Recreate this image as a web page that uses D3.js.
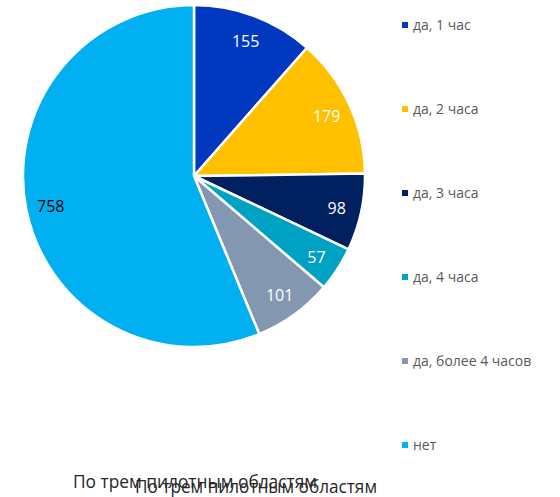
<!DOCTYPE html>
<html>
<head>
<meta charset="utf-8">
<script src="https://cdn.jsdelivr.net/npm/d3@7"></script>
<style>
  body { margin: 0; background: #fff; }
  text { font-family: "Open Sans", sans-serif; }
</style>
</head>
<body>
<div id="chart"></div>
<script>
// data
const categories = ["да, 1 час", "да, 2 часа", "да, 3 часа", "да, 4 часа", "да, более 4 часов", "нет"];
const values = [155, 179, 98, 57, 101, 758];
const colors = ["#0039c0", "#ffc000", "#002060", "#00a2c3", "#8497b0", "#00b0f0"];
const labelColors = ["#fff", "#fff", "#fff", "#fff", "#fff", "#000"];
const title = "По трем пилотным областям";

const width = 560, height = 497;
const cx = 194, cy = 176, radius = 171;

const svg = d3.select("#chart")
  .append("svg")
    .attr("width", width)
    .attr("height", height);

const data = categories.map(function(c, i) { return {name: c, value: values[i], i: i}; });

const pie = d3.pie()
  .sort(null)
  .value(function(d) { return d.value; });

const arc = d3.arc().innerRadius(0).outerRadius(radius);
const labelArc = d3.arc().innerRadius(146).outerRadius(146);

const g = svg.append("g")
  .attr("transform", `translate(${cx},${cy})`);

const slices = g.selectAll("g.slice")
  .data(pie(data))
  .enter()
  .append("g")
    .attr("class", "slice");

slices.append("path")
  .attr("d", arc)
  .attr("fill", function(d) { return colors[d.data.i]; })
  .attr("stroke", "#fff")
  .attr("stroke-width", 2.5)
  .attr("stroke-linejoin", "round");

slices.append("text")
  .attr("transform", function(d) { return `translate(${labelArc.centroid(d)})`; })
  .attr("text-anchor", "middle")
  .attr("dy", "0.45em")
  .style("font-size", "16px")
  .attr("fill", function(d) { return labelColors[d.data.i]; })
  .text(function(d) { return d.data.value; });

// legend
const legend = svg.append("g")
  .attr("transform", "translate(402,25)");

const item = legend.selectAll("g")
  .data(data)
  .enter()
  .append("g")
    .attr("transform", function(d, i) { return `translate(0,${i * 84})`; });

item.append("rect")
  .attr("x", 0)
  .attr("y", -3)
  .attr("width", 6)
  .attr("height", 6)
  .attr("fill", function(d) { return colors[d.i]; });

item.append("text")
  .attr("x", 11)
  .attr("dy", "0.35em")
  .style("font-size", "14px")
  .attr("fill", "#595959")
  .text(function(d) { return d.name; });

// title drawn twice, the copies overlap like in the original
svg.append("text")
  .attr("x", 73)
  .attr("y", 488)
  .style("font-size", "18px")
  .attr("fill", "#262626")
  .attr("textLength", 244)
  .attr("lengthAdjust", "spacingAndGlyphs")
  .text(title);

svg.append("text")
  .attr("x", 135)
  .attr("y", 493)
  .style("font-size", "18px")
  .attr("fill", "#262626")
  .attr("textLength", 242)
  .attr("lengthAdjust", "spacingAndGlyphs")
  .text(title);
</script>
</body>
</html>
